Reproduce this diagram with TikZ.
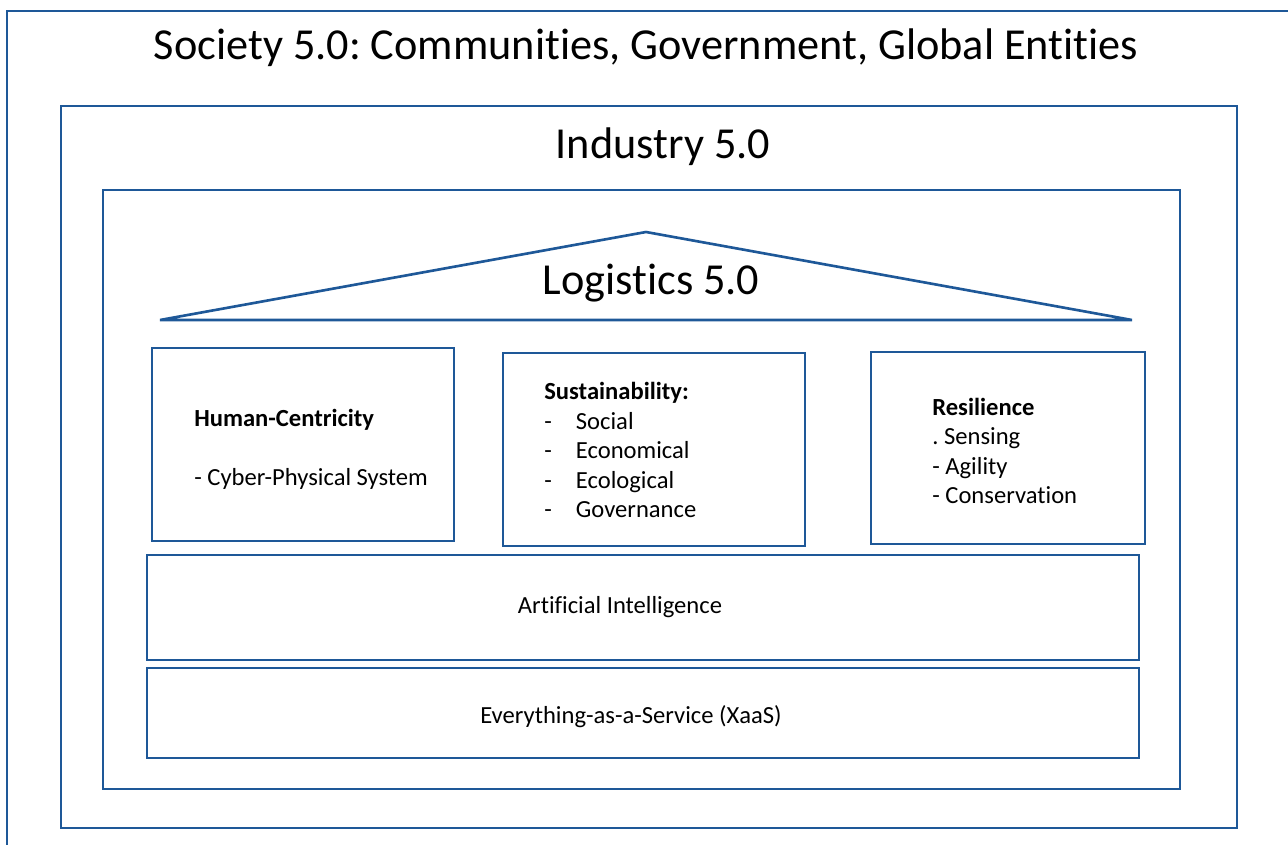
\documentclass[tikz,border=0pt]{standalone}
\usepackage{fontspec}
\setmainfont{Carlito}[Ligatures=CommonOff]
\usepackage{tikz}
\usetikzlibrary{fit}
\definecolor{boxblue}{RGB}{30,88,152}
\frenchspacing

\begin{document}
\begin{tikzpicture}[x=0.02cm,y=-0.02cm,line width=1.5pt,
  frame/.style={draw=boxblue,line width=1.5pt},
  pillar/.style={draw=boxblue,line width=1.5pt,rectangle,inner sep=0pt},
  bigtext/.style={font=\fontsize{25.2}{30}\selectfont,inner sep=0pt},
  boxtext/.style={font=\fontsize{14}{16.8}\selectfont,align=left,inner sep=0pt}]

\useasboundingbox (0,0) rectangle (1288,845);
\clip (0,0) rectangle (1288,845);

% nested frames
\node[pillar,fit={(7,11) (1300,860)}] (society) {};
\node[pillar,fit={(61,106) (1237,828)}] (industry) {};
\node[pillar,fit={(103,190) (1180,789)}] (logistics) {};

\node[bigtext] (societytxt) at (646,48) {Society 5.0: Communities, Government, Global Entities};
\node[bigtext] (industrytxt) at (663,146.5) {Industry 5.0};

% roof
\draw[frame] (160,320)--(646,232)--(1132,320)--cycle;
\node[bigtext] (logisticstxt) at (651,283.5) {Logistics 5.0};

% pillars
\node[pillar,fit={(152,348) (454,541)}] (human) {};
\node[pillar,fit={(503,353) (805,546)}] (sustain) {};
\node[pillar,fit={(871,352) (1145,544)}] (resil) {};

\node[boxtext,anchor=west] (humantxt) at (193,449)
  {\textbf{Human-Centricity}\\[16.8pt]- Cyber-Physical System};
\node[boxtext,anchor=west] (sustaintxt) at (543,450)
  {\textbf{Sustainability:}\\
   \makebox[18pt][l]{-}Social\\
   \makebox[18pt][l]{-}Economical\\
   \makebox[18pt][l]{-}Ecological\\
   \makebox[18pt][l]{-}Governance};
\node[boxtext,anchor=west] (resiltxt) at (931,451)
  {\textbf{Resilience}\\. Sensing\\- Agility\\- Conservation};

% base layers
\node[pillar,fit={(147,555) (1139,660)}] (ai) {};
\node[pillar,fit={(147,668) (1139,758)}] (xaas) {};

\node[boxtext] (aitxt) at (620,607) {Artificial Intelligence};
\node[boxtext] (xaastxt) at (631,717) {Everything-as-a-Service (XaaS)};
\end{tikzpicture}
\end{document}
